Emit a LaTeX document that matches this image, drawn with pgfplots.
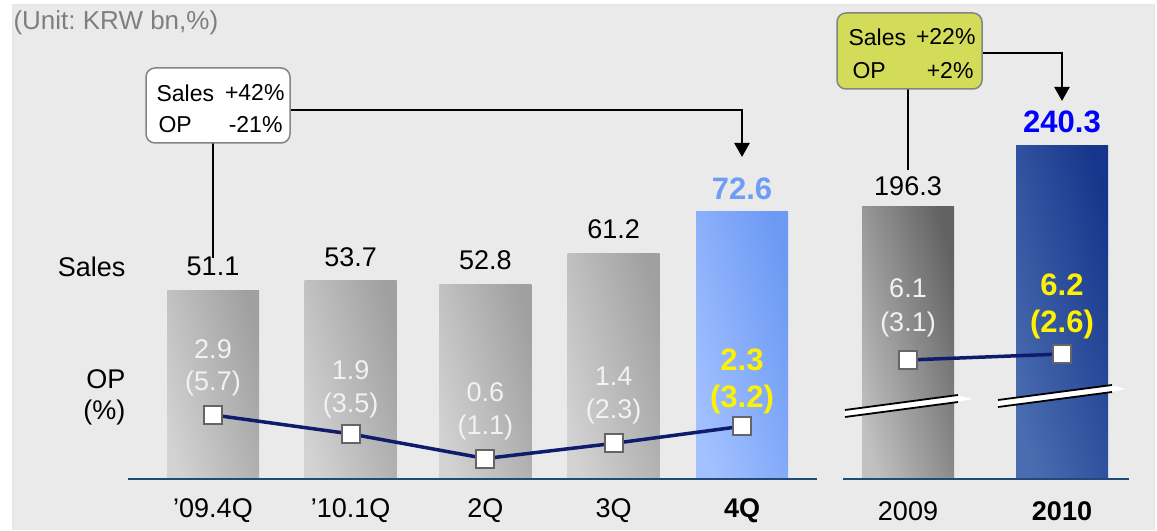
\documentclass[border=0pt]{standalone}
\usepackage{pgfplots}
\pgfplotsset{compat=1.18}
\usepackage{fontspec}
\setmainfont{Liberation Sans}
\usetikzlibrary{arrows.meta}
\frenchspacing
\definecolor{panel}{HTML}{EAEAEA}
\definecolor{navyline}{HTML}{0F1C6E}
\definecolor{baseblue}{HTML}{1F4A7A}
\definecolor{grayL}{HTML}{D2D2D2}
\definecolor{grayD}{HTML}{A0A0A0}
\definecolor{blueL}{HTML}{A3C1FF}
\definecolor{blueD}{HTML}{6C99F4}
\definecolor{darkgL}{HTML}{C0C0C0}
\definecolor{darkgD}{HTML}{626262}
\definecolor{navyL}{HTML}{4B6DB0}
\definecolor{navyD}{HTML}{16368C}
\definecolor{labblue}{HTML}{6F9CF6}
\definecolor{boxgreen}{HTML}{D3DC59}
\definecolor{unitgray}{HTML}{7F7F7F}
\definecolor{markgray}{HTML}{656565}
\definecolor{oplab}{HTML}{F2F2F2}
\newcommand\fs[1]{\fontsize{#1}{#1}\selectfont}

% x = category position (slightly uneven, as in the original layout)
\pgfplotstableread{
x y
0 2.9
1.04 1.9
2.06 0.6
3.03 1.4
4 2.3
}\qop
\pgfplotstableread{
x y
0 6.1
1 6.2
}\yop

\tikzset{lab/.style={font=\fs{27}, text=oplab},
  labb/.style={font=\bfseries\fs{31}, text=yellow}}
\pgfplotsset{base/.style={scale only axis, clip=false, ymin=0, height=344pt, anchor=south west,
  axis line style={draw=none}, tick style={draw=none}, major tick length=0pt, ymajorticks=false,
  xticklabel style={anchor=center, yshift=-32pt, font=\fs{27}}},
  bar/.style={ybar, bar width=92pt, bar shift=0pt, draw=none,
    point meta=explicit symbolic, nodes near coords},
  gbar/.style={bar, left color=grayL, right color=grayD, shading angle=105,
    nodes near coords style={anchor=center, yshift=24pt, font=\fs{27}, text=black}}}

\begin{document}
\begin{tikzpicture}[x=1pt,y=1pt]
\fill[white] (0,0) rectangle (1157,530);
\fill[panel] (12,0) rectangle (1154,525);
\draw[line width=1pt, black!10] (12,0) -- (12,525) -- (1154,525) -- (1154,0);

% quarterly sales
\begin{axis}[base, at={(128pt,51pt)}, width=689pt, xmin=-0.6427, xmax=4.567, ymax=93.22,
  xtick={0,1.04,2.06,3.03,4}, xticklabels={’09.4Q,’10.1Q,2Q,3Q,\textbf{4Q}}]
\addplot[gbar] coordinates {(0,51.1) [51.1]};
\addplot[gbar] coordinates {(1.04,53.7) [53.7]};
\addplot[gbar] coordinates {(2.06,52.8) [52.8]};
\addplot[gbar] coordinates {(3.03,61.2) [61.2]};
\addplot[bar, left color=blueL, right color=blueD, shading angle=105,
  nodes near coords style={anchor=center, yshift=22pt, font=\bfseries\fs{31}, text=labblue}]
  coordinates {(4,72.6) [72.6]};
\draw[baseblue, line width=2.5pt] (rel axis cs:0,0) -- (rel axis cs:1,0);
\end{axis}

% quarterly OP
\begin{axis}[base, hide axis, at={(128pt,51pt)}, width=689pt, xmin=-0.6427, xmax=4.567, ymin=-0.48, ymax=17.67]
\addplot[navyline, line width=3.5pt, mark=square*, mark size=9pt,
  mark options={fill=white, draw=markgray, line width=2pt}] table[x=x, y=y] {\qop};
\node[lab, yshift=66pt] at (axis cs:0,2.9) {2.9};
\node[lab, yshift=31pt] at (axis cs:0,2.9) {(5.7)};
\node[lab, yshift=64pt] at (axis cs:1.04,1.9) {1.9};
\node[lab, yshift=28pt] at (axis cs:1.04,1.9) {(3.5)};
\node[lab, yshift=66pt] at (axis cs:2.06,0.6) {0.6};
\node[lab, yshift=31pt] at (axis cs:2.06,0.6) {(1.1)};
\node[lab, yshift=67pt] at (axis cs:3.03,1.4) {1.4};
\node[lab, yshift=32pt] at (axis cs:3.03,1.4) {(2.3)};
\node[labb, yshift=66pt] at (axis cs:4,2.3) {2.3};
\node[labb, yshift=27pt] at (axis cs:4,2.3) {(3.2)};
\end{axis}

% annual sales
\begin{axis}[base, at={(843pt,51pt)}, width=286pt, xmin=-0.4221, xmax=1.435, ymax=248.2,
  xtick={0,1}, xticklabels={2009,\textbf{2010}}]
\addplot[bar, left color=darkgL, right color=darkgD, shading angle=105,
  nodes near coords style={anchor=center, yshift=21pt, font=\fs{27}, text=black}]
  coordinates {(0,196.3) [196.3]};
\addplot[bar, left color=navyL, right color=navyD, shading angle=105,
  nodes near coords style={anchor=center, yshift=24pt, font=\bfseries\fs{31}, text=blue}]
  coordinates {(1,240.3) [240.3]};
\draw[baseblue, line width=2.5pt] (rel axis cs:0,0) -- (rel axis cs:1,0);
\end{axis}

% break marks
\fill[white] (845,120) -- (958,135) -- (972,131) -- (958,128) -- (845,113) -- cycle;
\draw[black, line width=1.8pt] (845,120) -- (958,135) (845,113) -- (958,128);
\fill[white] (998,130) -- (1112,145) -- (1125,141) -- (1112,138) -- (998,123) -- cycle;
\draw[black, line width=1.8pt] (998,130) -- (1112,145) (998,123) -- (1112,138);

% annual OP
\begin{axis}[base, hide axis, at={(843pt,51pt)}, width=286pt, xmin=-0.4221, xmax=1.435, ymin=4.117, ymax=9.85]
\addplot[navyline, line width=3.5pt, mark=square*, mark size=9pt,
  mark options={fill=white, draw=markgray, line width=2pt}] table[x=x, y=y] {\yop};
\node[lab, yshift=72pt] at (axis cs:0,6.1) {6.1};
\node[lab, yshift=35pt] at (axis cs:0,6.1) {(3.1)};
\node[labb, yshift=69pt] at (axis cs:1,6.2) {6.2};
\node[labb, yshift=30pt] at (axis cs:1,6.2) {(2.6)};
\end{axis}

% side labels
\node[anchor=west, text=unitgray, font=\fs{26}] at (10,507) {(Unit: KRW bn,\%)};
\node[anchor=east, font=\fs{27}] at (129,263) {Sales};
\node[anchor=east, font=\fs{27}] at (129,151) {OP};
\node[anchor=east, font=\fs{27}] at (129,117) {(\%)};

% annotation 1
\draw[black, line width=2.5pt] (213,387) -- (213,272);
\draw[black, line width=2.5pt, -{Triangle[width=15pt,length=14pt]}] (290,420) -- (742,420) -- (742,373);
\draw[markgray!80, line width=1.5pt, fill=white, rounded corners=9pt] (146,462) rectangle (290,387);
\node[anchor=west, font=\fs{23}] at (153,437) {Sales};
\node[anchor=east, font=\fs{23}] at (288,437) {+42\%};
\node[anchor=west, font=\fs{23}] at (155,405) {OP};
\node[anchor=east, font=\fs{23}] at (286,405) {-21\%};

% annotation 2
\draw[black, line width=2.5pt] (908,441) -- (908,360);
\draw[black, line width=2.5pt, -{Triangle[width=15pt,length=14pt]}] (982,477) -- (1062,477) -- (1062,429);
\draw[markgray!80, line width=1.5pt, fill=boxgreen, rounded corners=9pt] (837,517) rectangle (982,441);
\node[anchor=west, font=\fs{23}] at (845,493) {Sales};
\node[anchor=east, font=\fs{23}] at (979,493) {+22\%};
\node[anchor=west, font=\fs{23}] at (849,459) {OP};
\node[anchor=east, font=\fs{23}] at (977,459) {+2\%};
\end{tikzpicture}
\end{document}
